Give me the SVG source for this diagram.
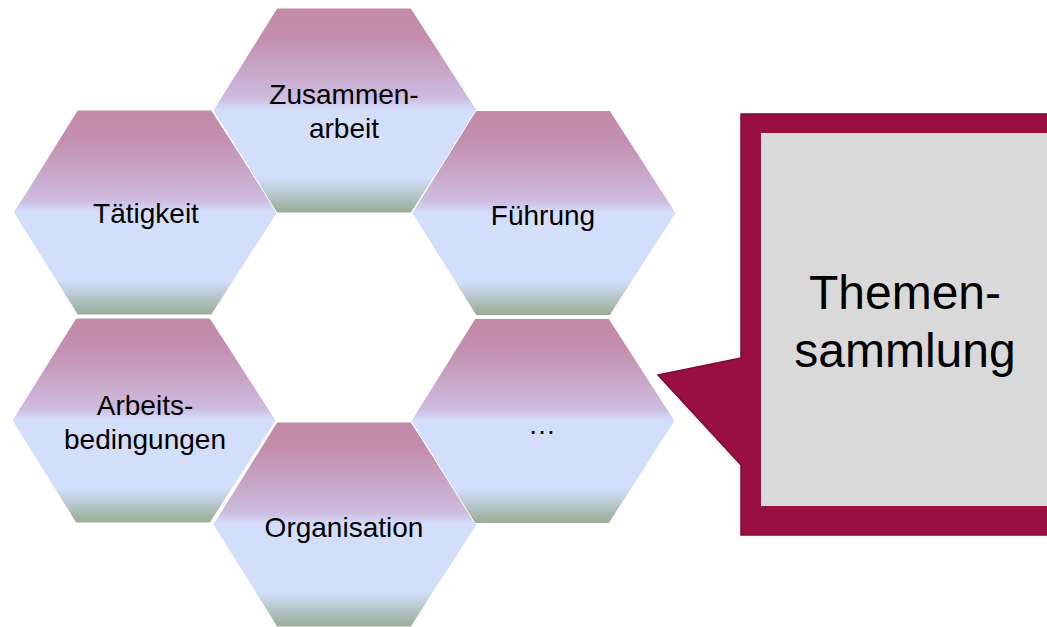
<svg xmlns="http://www.w3.org/2000/svg" width="1047" height="627" viewBox="0 0 1047 627">
<defs>
<linearGradient id="hexfill" x1="0" y1="0" x2="0" y2="1">
<stop offset="0" stop-color="#C389A8"/>
<stop offset="0.15" stop-color="#C38FAE"/>
<stop offset="0.44" stop-color="#CDBCDF"/>
<stop offset="0.5" stop-color="#D3DEFB"/>
<stop offset="0.83" stop-color="#D3DEFB"/>
<stop offset="1" stop-color="#98AC94"/>
</linearGradient>
<polygon id="hex" points="-132,0 -68,-102.5 66,-102.5 132,0 66,102.5 -68,102.5"/>
</defs>
<style>
.hex{fill:url(#hexfill);stroke:#ffffff;stroke-width:1}
.lbl{font-family:"Liberation Sans",Arial,sans-serif;font-size:28px;fill:#000;text-anchor:middle}
.big{font-family:"Liberation Sans",Arial,sans-serif;font-size:48px;fill:#000;text-anchor:middle}
</style>
<rect width="1047" height="627" fill="#ffffff"/>
<g id="node-taetigkeit">
<use href="#hex" class="hex" transform="translate(145.5,212.5)"/>
<text class="lbl" x="146" y="223">Tätigkeit</text>
</g>
<g id="node-arbeitsbedingungen">
<use href="#hex" class="hex" transform="translate(144,420.5)"/>
<text class="lbl" x="145" y="415">Arbeits-</text>
<text class="lbl" x="145" y="449">bedingungen</text>
</g>
<g id="node-zusammenarbeit">
<use href="#hex" class="hex" transform="translate(345,110.5)"/>
<text class="lbl" x="344" y="104">Zusammen-</text>
<text class="lbl" x="344" y="138">arbeit</text>
</g>
<g id="node-organisation">
<use href="#hex" class="hex" transform="translate(345,524.5)"/>
<text class="lbl" x="344" y="537">Organisation</text>
</g>
<g id="node-fuehrung">
<use href="#hex" class="hex" transform="translate(544,213)"/>
<text class="lbl" x="543" y="225">Führung</text>
</g>
<g id="node-etc">
<use href="#hex" class="hex" transform="translate(543,421)"/>
<text class="lbl" x="542" y="434">…</text>
</g>
<g id="connectors"></g>
<g id="node-themensammlung">
<path d="M741,114 H1060 V535 H741 V465 L658,375 L741,358 Z" fill="#990F42" stroke="#7A0C35" stroke-width="1.5"/>
<rect x="761" y="133" width="300" height="373" fill="#D9D9D9"/>
<text class="big" x="905" y="309">Themen-</text>
<text class="big" x="905" y="367">sammlung</text>
</g>
</svg>
